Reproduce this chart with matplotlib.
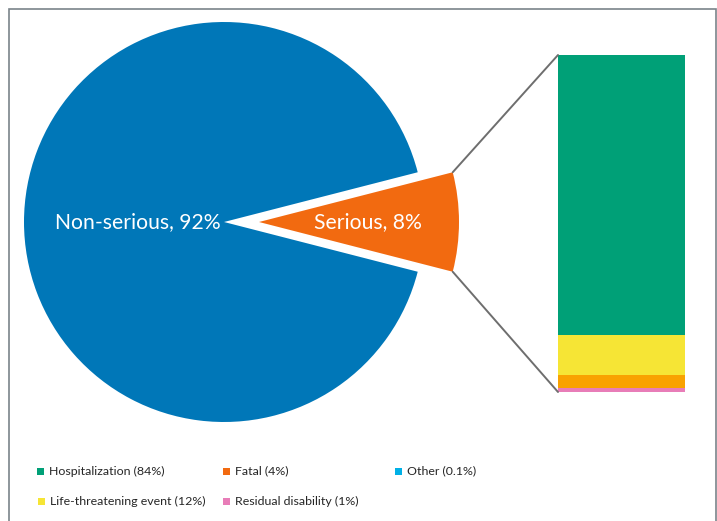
import numpy as np
import matplotlib
matplotlib.use("Agg")
import matplotlib.pyplot as plt
from matplotlib.patches import ConnectionPatch, Rectangle

plt.rcParams['font.family'] = ['Lato', 'DejaVu Sans']

# overall seriousness split
pie_labels = ['Serious, 8%', 'Non-serious, 92%']
pie_values = [8, 92]
pie_colors = ['#F26A10', '#0077B8']

# breakdown of the serious reports, stacked bottom to top
bar_labels = ['Other (0.1%)', 'Residual disability (1%)', 'Fatal (4%)',
              'Life-threatening event (12%)', 'Hospitalization (84%)']
bar_values = [0.1, 1, 4, 12, 84]
bar_colors = ['#00B0E6', '#E87DB8', '#F9A200', '#F6E535', '#00A077']

legend_labels = ['Hospitalization (84%)', 'Fatal (4%)', 'Other (0.1%)',
                 'Life-threatening event (12%)', 'Residual disability (1%)']
legend_colors = ['#00A077', '#F26A10', '#00B0E6', '#F6E535', '#E87DB8']

W, H = 717, 521
fig = plt.figure(figsize=(W / 100, H / 100), dpi=100)


def px_axes(x0, y0, x1, y1):
    # axes placed by pixel box (y measured from the top)
    return fig.add_axes([x0 / W, 1 - y1 / H, (x1 - x0) / W, (y1 - y0) / H])


# pie: centre (224, 222) px, radius 200 px
cx, cy, r = 224, 222, 200
pie_box = (10, 15, 520, 430)
ax_pie = px_axes(*pie_box)
explode = [0.175, 0]
wedges, texts = ax_pie.pie(pie_values, colors=pie_colors, startangle=-14.4,
                           explode=explode, counterclock=True,
                           labels=pie_labels, labeldistance=None,
                           wedgeprops=dict(linewidth=0))
ax_pie.set_aspect('auto')
ax_pie.set_xlim((pie_box[0] - cx) / r, (pie_box[2] - cx) / r)
ax_pie.set_ylim((cy - pie_box[3]) / r, (cy - pie_box[1]) / r)
ax_pie.axis('off')

ax_pie.text(-0.43, 0, pie_labels[1], color='white', fontsize=15.2,
            ha='center', va='center')
ax_pie.text(0.72, 0, pie_labels[0], color='white', fontsize=15.2,
            ha='center', va='center')

# stacked bar of the serious slice
ax_bar = px_axes(558, 55, 685, 392)
bottom = 0
for v, c in zip(bar_values, bar_colors):
    ax_bar.bar(0, v, width=1, bottom=bottom, color=c, linewidth=0)
    bottom += v
ax_bar.set_xlim(-0.5, 0.5)
ax_bar.set_ylim(0, sum(bar_values))
ax_bar.axis('off')

# connector lines from the serious wedge to the bar
w = wedges[0]
ox, oy = w.center
for ang, yb in [(w.theta2, sum(bar_values)), (w.theta1, 0)]:
    px = ox + w.r * np.cos(np.radians(ang))
    py = oy + w.r * np.sin(np.radians(ang))
    con = ConnectionPatch(xyA=(px, py), coordsA=ax_pie.transData,
                          xyB=(-0.5, yb), coordsB=ax_bar.transData,
                          color='#6E6E6E', linewidth=1.4)
    fig.add_artist(con)

# outer frame (runs off the bottom edge)
fig.add_artist(Rectangle((8.5 / W, -0.05), 707 / W, 1.05 - 9.5 / H,
                         transform=fig.transFigure, fill=False,
                         edgecolor='#7A848A', linewidth=1.2))

# legend font sized so the first entry is ~116 px wide
renderer = fig.canvas.get_renderer()
probe = fig.text(0, 0, legend_labels[0], fontsize=10)
leg_size = 10 * 116 / probe.get_window_extent(renderer).width
probe.remove()

# legend, two rows
legend_pos = [(40, 471), (226, 471), (398, 471), (41, 501), (226, 501)]
for (lx, ly), lab, col in zip(legend_pos, legend_labels, legend_colors):
    fig.add_artist(Rectangle(((lx - 3.5) / W, 1 - (ly + 3.5) / H), 7 / W, 7 / H,
                             transform=fig.transFigure, facecolor=col,
                             edgecolor='none'))
    fig.text((lx + 9) / W, 1 - ly / H, lab, fontsize=leg_size, color='#262626',
             ha='left', va='center')

fig.savefig('out.png', dpi=100)
